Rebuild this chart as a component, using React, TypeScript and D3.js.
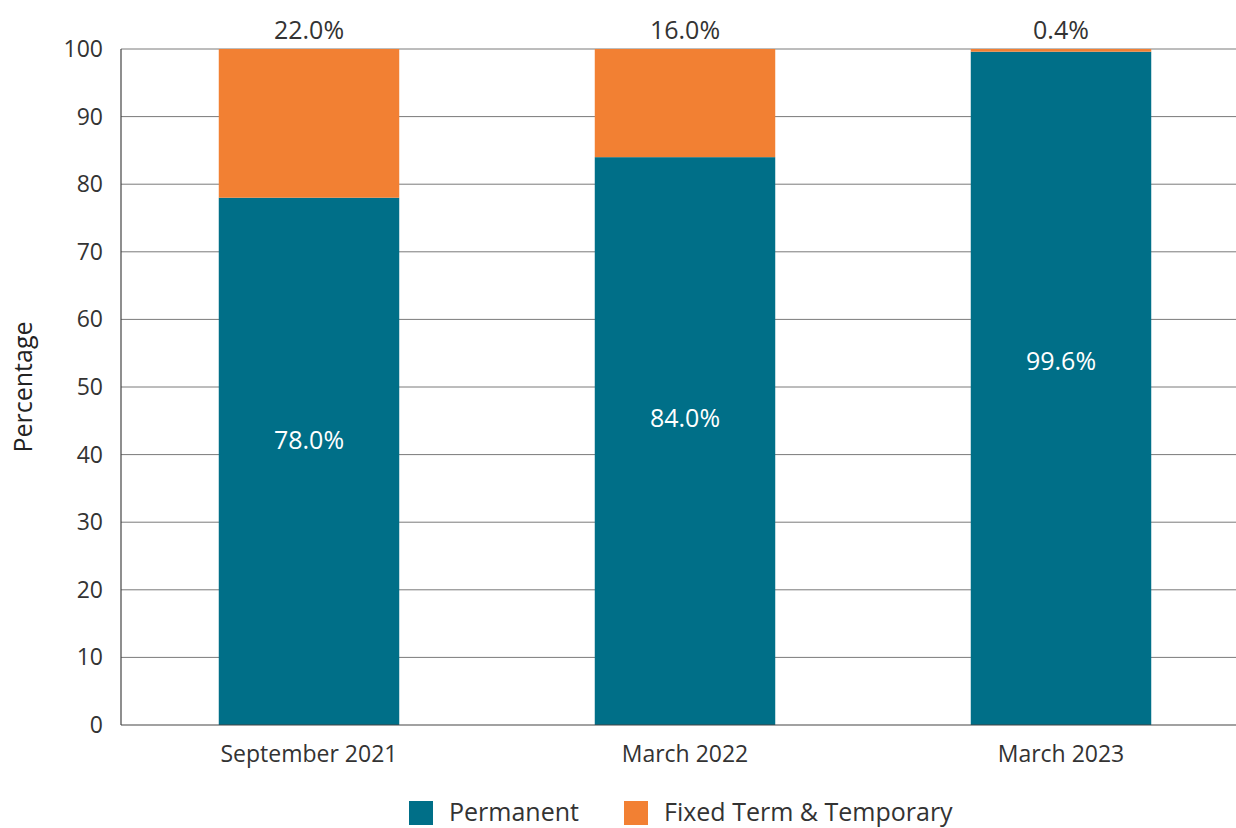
import React, { useEffect, useRef } from 'react';
import * as d3 from 'd3';

const categories = ['September 2021', 'March 2022', 'March 2023'];
const permanent = [78.0, 84.0, 99.6];
const fixedTerm = [22.0, 16.0, 0.4];
const yTicks = [0, 10, 20, 30, 40, 50, 60, 70, 80, 90, 100];
const seriesNames = ['Permanent', 'Fixed Term & Temporary'];

const TEAL = '#006f88';
const ORANGE = '#f28033';
const FONT = '"Open Sans", Lato, sans-serif';

const App = () => {
  const svgRef = useRef<SVGSVGElement>(null);

  useEffect(() => {
    const width = 1236;
    const height = 828;
    const margin = { top: 49, right: 0, bottom: 103, left: 121 };

    const svg = d3.select(svgRef.current);
    svg.selectAll('*').remove();

    const x = d3.scaleBand<string>()
      .domain(categories)
      .range([margin.left, 1249])
      .paddingInner(0.52)
      .paddingOuter(0.26);

    const y = d3.scaleLinear()
      .domain([0, 100])
      .range([height - margin.bottom, margin.top]);

    // grid lines
    svg.append('g')
      .selectAll('line')
      .data(yTicks.filter(d => d > 0))
      .enter()
      .append('line')
      .attr('x1', margin.left)
      .attr('x2', width)
      .attr('y1', d => y(d))
      .attr('y2', d => y(d))
      .attr('stroke', '#7a7a7a')
      .attr('stroke-width', 1);

    const rows = categories.map((c, i) => ({ cat: c, perm: permanent[i], fixed: fixedTerm[i] }));

    // permanent bars
    svg.append('g')
      .selectAll('rect')
      .data(rows)
      .enter()
      .append('rect')
      .attr('x', d => x(d.cat)!)
      .attr('width', x.bandwidth())
      .attr('y', d => y(d.perm))
      .attr('height', d => y(0) - y(d.perm))
      .attr('fill', TEAL);

    // fixed term bars, stacked on top
    svg.append('g')
      .selectAll('rect')
      .data(rows)
      .enter()
      .append('rect')
      .attr('x', d => x(d.cat)!)
      .attr('width', x.bandwidth())
      .attr('y', d => y(d.perm + d.fixed))
      .attr('height', d => y(d.perm) - y(d.perm + d.fixed))
      .attr('fill', ORANGE);

    // axes lines
    svg.append('line')
      .attr('x1', margin.left).attr('x2', margin.left)
      .attr('y1', y(100)).attr('y2', y(0))
      .attr('stroke', '#444').attr('stroke-width', 1.2);
    svg.append('line')
      .attr('x1', margin.left).attr('x2', width)
      .attr('y1', y(0)).attr('y2', y(0))
      .attr('stroke', '#444').attr('stroke-width', 1.2);

    // y tick labels
    svg.append('g')
      .selectAll('text')
      .data(yTicks)
      .enter()
      .append('text')
      .attr('x', 103)
      .attr('y', d => y(d))
      .attr('dy', '0.35em')
      .attr('text-anchor', 'end')
      .attr('font-family', FONT)
      .attr('font-size', 23)
      .attr('fill', '#333')
      .text(d => d);

    // category labels
    svg.append('g')
      .selectAll('text')
      .data(categories)
      .enter()
      .append('text')
      .attr('x', d => x(d)! + x.bandwidth() / 2)
      .attr('y', 762)
      .attr('text-anchor', 'middle')
      .attr('font-family', FONT)
      .attr('font-size', 23)
      .attr('fill', '#333')
      .text(d => d);

    // value labels: inside permanent bars
    svg.append('g')
      .selectAll('text')
      .data(rows)
      .enter()
      .append('text')
      .attr('x', d => x(d.cat)! + x.bandwidth() / 2)
      .attr('y', d => y(d.perm * 0.54))
      .attr('dy', '0.35em')
      .attr('text-anchor', 'middle')
      .attr('font-family', FONT)
      .attr('font-size', 25)
      .attr('fill', '#fff')
      .text(d => `${d.perm.toFixed(1)}%`);

    // value labels: above bars
    svg.append('g')
      .selectAll('text')
      .data(rows)
      .enter()
      .append('text')
      .attr('x', d => x(d.cat)! + x.bandwidth() / 2)
      .attr('y', 39)
      .attr('text-anchor', 'middle')
      .attr('font-family', FONT)
      .attr('font-size', 25)
      .attr('fill', '#333')
      .text(d => `${d.fixed.toFixed(1)}%`);

    // y axis title
    svg.append('text')
      .attr('transform', `translate(32,${(y(0) + y(100)) / 2}) rotate(-90)`)
      .attr('text-anchor', 'middle')
      .attr('font-family', FONT)
      .attr('font-size', 25)
      .attr('fill', '#222')
      .text('Percentage');

    // legend
    const legendItems = [
      { name: seriesNames[0], color: TEAL, x: 409 },
      { name: seriesNames[1], color: ORANGE, x: 624 },
    ];
    const lg = svg.append('g');
    legendItems.forEach(it => {
      lg.append('rect')
        .attr('x', it.x).attr('y', 801)
        .attr('width', 24).attr('height', 24)
        .attr('fill', it.color);
      lg.append('text')
        .attr('x', it.x + 40).attr('y', 821)
        .attr('font-family', FONT)
        .attr('font-size', 25)
        .attr('fill', '#333')
        .text(it.name);
    });
  }, []);

  return (
    <svg ref={svgRef} width={1236} height={828} style={{ display: 'block', position: 'absolute', left: 0, top: 0, background: 'white' }} />
  );
};

export default App;
